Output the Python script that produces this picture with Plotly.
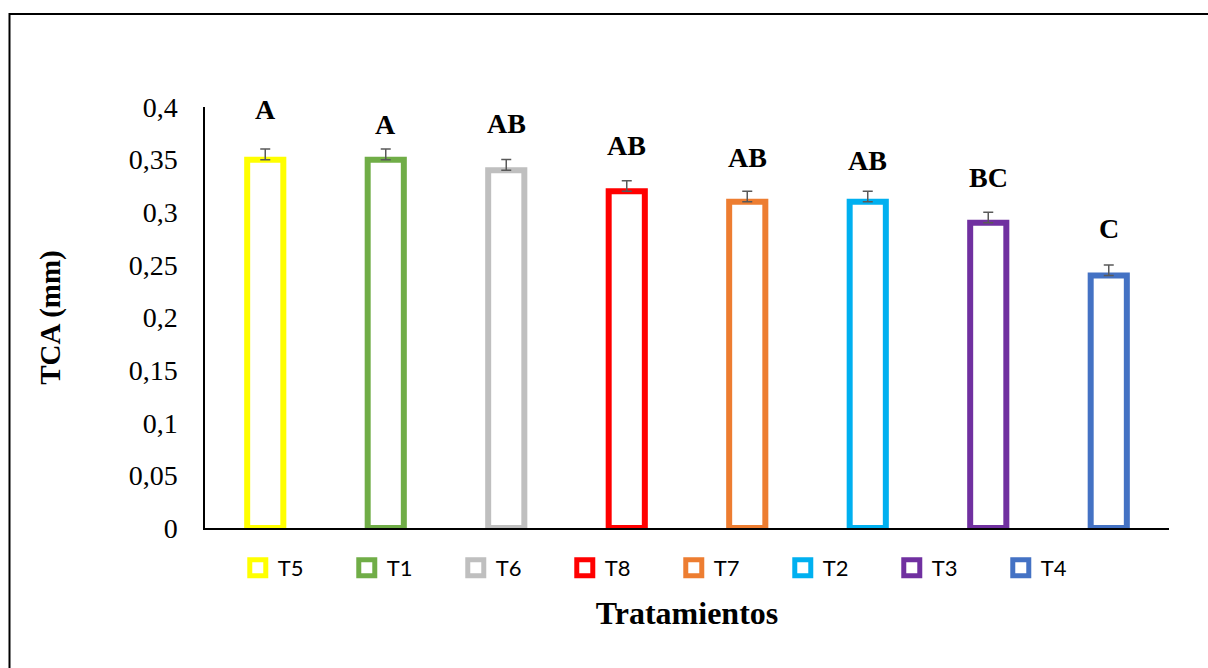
import plotly.graph_objects as go

# Treatments (ordered as plotted) and measurements
treatments = ["T5", "T1", "T6", "T8", "T7", "T2", "T3", "T4"]
tca_mm = [0.35, 0.35, 0.34, 0.32, 0.31, 0.31, 0.29, 0.24]
std_err = [0.01, 0.01, 0.01, 0.01, 0.01, 0.01, 0.01, 0.01]
groups = ["A", "A", "AB", "AB", "AB", "AB", "BC", "C"]

colors = ["#FFFF00", "#70AD47", "#BFBFBF", "#FF0000",
          "#ED7D31", "#00B0F0", "#7030A0", "#4472C4"]
# vertical gap (px) between the error cap and the group letter
letter_gap = [40, 25, 36, 35, 34, 31, 35, 36]

fig = go.Figure()
for name, val, err, col in zip(treatments, tca_mm, std_err, colors):
    fig.add_trace(go.Bar(
        x=[name], y=[val], name=name, showlegend=False,
        width=0.3,
        marker=dict(color="white", line=dict(color=col, width=6)),
        error_y=dict(type="data", symmetric=False, array=[err], arrayminus=[0],
                     color="#595959", thickness=1.5, width=5),
    ))

# legend entries: white squares with a thick coloured border
for name, col in zip(treatments, colors):
    fig.add_trace(go.Scatter(
        x=[None], y=[None], name=name, mode="markers",
        marker=dict(symbol="square", size=16, color="white",
                    line=dict(color=col, width=8)),
    ))

for name, val, err, g, gap in zip(treatments, tca_mm, std_err, groups, letter_gap):
    fig.add_annotation(
        x=name, y=val + err, text=f"<b>{g}</b>", showarrow=False,
        yanchor="middle", yshift=gap,
        font=dict(family="Liberation Serif", size=28, color="black"),
    )

# outer frame around the whole chart
fig.add_shape(type="rect", xref="paper", yref="paper",
              x0=(9.5 - 205) / 964, x1=1.2, y0=-0.5, y1=(528 - 14) / 421,
              line=dict(color="black", width=2), fillcolor="rgba(0,0,0,0)")

fig.update_layout(
    width=1208, height=668,
    margin=dict(l=205, r=39, t=107, b=140),
    paper_bgcolor="white", plot_bgcolor="white",
    separators=",.",
    barmode="group",
    showlegend=True,
    legend=dict(orientation="h", x=0.034, xanchor="left", y=-0.095, yanchor="middle",
                entrywidth=64, font=dict(family="Lato", size=22, color="black"),
                itemclick=False),
    xaxis=dict(
        showticklabels=False, ticks="", showgrid=False, zeroline=False,
        showline=True, linecolor="black", linewidth=1.5,
        title=dict(text="<b>Tratamientos</b>", standoff=73,
                   font=dict(family="Liberation Serif", size=32, color="black")),
    ),
    yaxis=dict(
        range=[0, 0.4], dtick=0.05, tick0=0, showgrid=False, zeroline=False,
        showline=True, linecolor="black", linewidth=1.5, ticks="",
        ticklabelstandoff=20,
        tickfont=dict(family="Liberation Serif", size=28, color="black"),
        title=dict(text="<b>TCA (mm)</b>", standoff=60,
                   font=dict(family="Liberation Serif", size=29, color="black")),
    ),
)

fig.write_html("out.html")
